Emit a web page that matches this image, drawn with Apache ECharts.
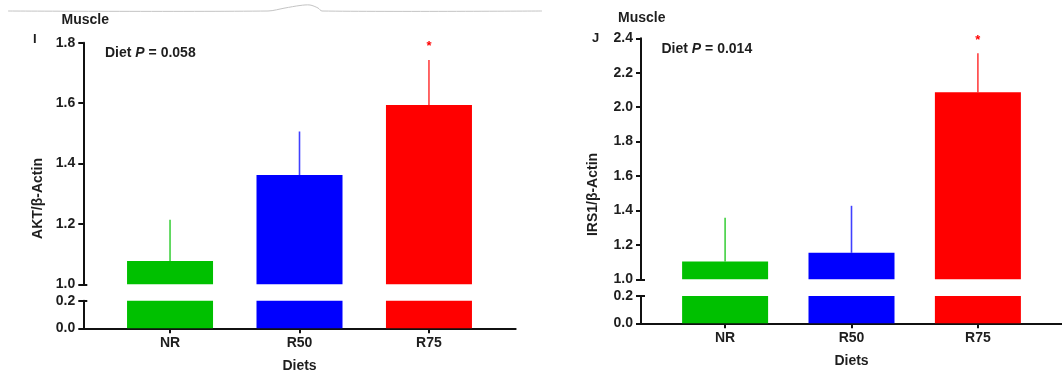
<!DOCTYPE html>
<html>
<head>
<meta charset="utf-8">
<script src="https://cdn.jsdelivr.net/npm/echarts@6/dist/echarts.min.js"></script>
<style>
html,body{margin:0;padding:0;background:#fff;}
#c{width:1062px;height:375px;}
</style>
</head>
<body>
<div id="c"></div>
<script>
// ---- data ----
var categories = ['NR', 'R50', 'R75'];
var colors = ['#00c000', '#0000ff', '#ff0000'];
var aktMean = [1.077, 1.362, 1.594];
var aktErrTop = [1.214, 1.506, 1.743];
var irsMean = [1.104, 1.154, 2.086];
var irsErrTop = [1.357, 1.427, 2.313];
var sigMarks = ['', '', '*'];
var aktUpperTicks = [1.0, 1.8, 0.2];   // min, max, interval
var irsUpperTicks = [1.0, 2.4, 0.2];
var lowerTicks = [0.0, 0.2, 0.2];

var FONT = '"Liberation Sans", Arial, Helvetica, sans-serif';
var TXT = '#1e1e1e';
var AX = '#111';

function pts(vals) { return vals.map(function (v, i) { return [i, v]; }); }
function errData(mean, top) { return mean.map(function (v, i) { return [i, v, top[i]]; }); }

var panels = [
  { left: 83.3, width: 432.4, min: -0.67, max: 2.67, upTop: 42.7, upH: 241.6, loTop: 300.7, loH: 27.6,
    up: aktUpperTicks, mean: aktMean, err: aktErrTop },
  { left: 641, width: 430.5, min: -0.6654, max: 2.6654, upTop: 38.3, upH: 241, loTop: 296, loH: 27.3,
    up: irsUpperTicks, mean: irsMean, err: irsErrTop }
];

var grids = [], xAxes = [], yAxes = [], series = [];
var labelStyle = { fontFamily: FONT, fontSize: 14, fontWeight: 'bold', color: TXT };

panels.forEach(function (p, k) {
  var gUp = grids.length;
  grids.push({ left: p.left, width: p.width, top: p.upTop, height: p.upH });
  var gLo = grids.length;
  grids.push({ left: p.left, width: p.width, top: p.loTop, height: p.loH });

  // x axes
  var xUp = xAxes.length;
  xAxes.push({ type: 'value', gridIndex: gUp, min: p.min, max: p.max, show: false });
  var xLo = xAxes.length;
  xAxes.push({
    type: 'value', gridIndex: gLo, min: p.min, max: p.max,
    axisLine: { show: true, onZero: false, lineStyle: { color: AX, width: 2 } },
    axisTick: { show: true, length: 5, lineStyle: { color: AX, width: 2 }, customValues: [0, 1, 2] },
    axisLabel: Object.assign({ margin: 8, customValues: [0, 1, 2],
      formatter: function (v) { return categories[Math.round(v)] || ''; } }, labelStyle),
    splitLine: { show: false },
    name: 'Diets', nameLocation: 'middle', nameGap: 31,
    nameTextStyle: { fontFamily: FONT, fontSize: 14, fontWeight: 'bold', color: TXT }
  });

  // y axes
  var yUp = yAxes.length;
  yAxes.push({
    type: 'value', gridIndex: gUp, min: p.up[0], max: p.up[1], interval: p.up[2],
    axisLine: { show: true, onZero: false, lineStyle: { color: AX, width: 2 } },
    axisTick: { show: true, length: 5, lineStyle: { color: AX, width: 2 } },
    axisLabel: Object.assign({ margin: 8, formatter: function (v) { return v.toFixed(1); } }, labelStyle),
    splitLine: { show: false }
  });
  yAxes.push({
    type: 'value', gridIndex: gUp, min: p.up[0], max: p.up[1], position: 'left',
    axisLine: { show: false, onZero: false },
    axisTick: { show: true, inside: true, length: 4, lineStyle: { color: AX, width: 2 }, customValues: [p.up[0]] },
    axisLabel: { show: false }, splitLine: { show: false }
  });
  var yLo = yAxes.length;
  yAxes.push({
    type: 'value', gridIndex: gLo, min: lowerTicks[0], max: lowerTicks[1], interval: lowerTicks[2],
    axisLine: { show: true, onZero: false, lineStyle: { color: AX, width: 2 } },
    axisTick: { show: true, length: 5, lineStyle: { color: AX, width: 2 } },
    axisLabel: Object.assign({ margin: 8, formatter: function (v) { return v.toFixed(1); } }, labelStyle),
    splitLine: { show: false }
  });
  yAxes.push({
    type: 'value', gridIndex: gLo, min: lowerTicks[0], max: lowerTicks[1], position: 'left',
    axisLine: { show: false, onZero: false },
    axisTick: { show: true, inside: true, length: 4, lineStyle: { color: AX, width: 2 }, customValues: [lowerTicks[1]] },
    axisLabel: { show: false }, splitLine: { show: false }
  });

  var barItem = { color: function (q) { return colors[q.dataIndex]; } };
  series.push({ type: 'bar', xAxisIndex: xUp, yAxisIndex: yUp, data: pts(p.mean), barWidth: 86, clip: true,
    itemStyle: barItem, silent: true });
  series.push({ type: 'bar', xAxisIndex: xLo, yAxisIndex: yLo, data: pts(p.mean), barWidth: 86, clip: true,
    itemStyle: barItem, silent: true });
  series.push({
    type: 'custom', xAxisIndex: xUp, yAxisIndex: yUp, data: errData(p.mean, p.err), silent: true,
    encode: { x: 0, y: [1, 2] },
    renderItem: function (params, api) {
      var i = params.dataIndex;
      var a = api.coord([api.value(0), api.value(1)]);
      var b = api.coord([api.value(0), api.value(2)]);
      var children = [{
        type: 'line', shape: { x1: a[0], y1: a[1], x2: b[0], y2: b[1] },
        style: { stroke: colors[i], lineWidth: 1.6, opacity: 0.75 }
      }];
      if (sigMarks[i]) {
        children.push({
          type: 'text', x: b[0], y: b[1] - 13,
          style: { text: sigMarks[i], fill: colors[i], font: 'bold 13px ' + FONT, align: 'center', verticalAlign: 'middle' }
        });
      }
      return { type: 'group', children: children };
    }
  });
});

var bold14 = 'bold 14px ' + FONT;
var bold13 = 'bold 13px ' + FONT;
function rich(val) {
  return {
    type: 'text', silent: true,
    style: {
      text: '{a|Diet }{b|P}{a| = ' + val + '}',
      rich: {
        a: { font: bold14, fill: TXT },
        b: { font: 'italic bold 14px ' + FONT, fill: TXT }
      },
      verticalAlign: 'middle'
    }
  };
}
var t1 = rich('0.058'); t1.x = 105; t1.y = 53.5;
var t2 = rich('0.014'); t2.x = 661.5; t2.y = 49.3;

var option = {
  animation: false,
  backgroundColor: '#fff',
  grid: grids, xAxis: xAxes, yAxis: yAxes, series: series,
  graphic: [
    { type: 'polyline', silent: true,
      shape: { points: [[8, 11], [268, 11], [285, 8], [300, 5.5], [310, 5], [318, 8], [322, 11], [542, 11]], smooth: 0.3 },
      style: { stroke: '#c4c4c4', lineWidth: 1, fill: null } },
    { type: 'text', x: 61.5, y: 20, silent: true, style: { text: 'Muscle', font: bold14, fill: TXT, verticalAlign: 'middle' } },
    { type: 'text', x: 618, y: 18.3, silent: true, style: { text: 'Muscle', font: bold14, fill: TXT, verticalAlign: 'middle' } },
    { type: 'text', x: 33, y: 39.5, silent: true, style: { text: 'I', font: bold13, fill: TXT, verticalAlign: 'middle' } },
    { type: 'text', x: 592, y: 38.3, silent: true, style: { text: 'J', font: bold13, fill: TXT, verticalAlign: 'middle' } },
    t1, t2,
    { type: 'text', x: 38.5, y: 198.5, rotation: Math.PI / 2, silent: true,
      style: { text: 'AKT/β-Actin', font: bold14, fill: TXT, align: 'center', verticalAlign: 'middle' } },
    { type: 'text', x: 593, y: 194.5, rotation: Math.PI / 2, silent: true,
      style: { text: 'IRS1/β-Actin', font: bold14, fill: TXT, align: 'center', verticalAlign: 'middle' } }
  ]
};

var chart = echarts.init(document.getElementById('c'), null, { renderer: 'canvas' });
chart.setOption(option);
</script>
</body>
</html>
